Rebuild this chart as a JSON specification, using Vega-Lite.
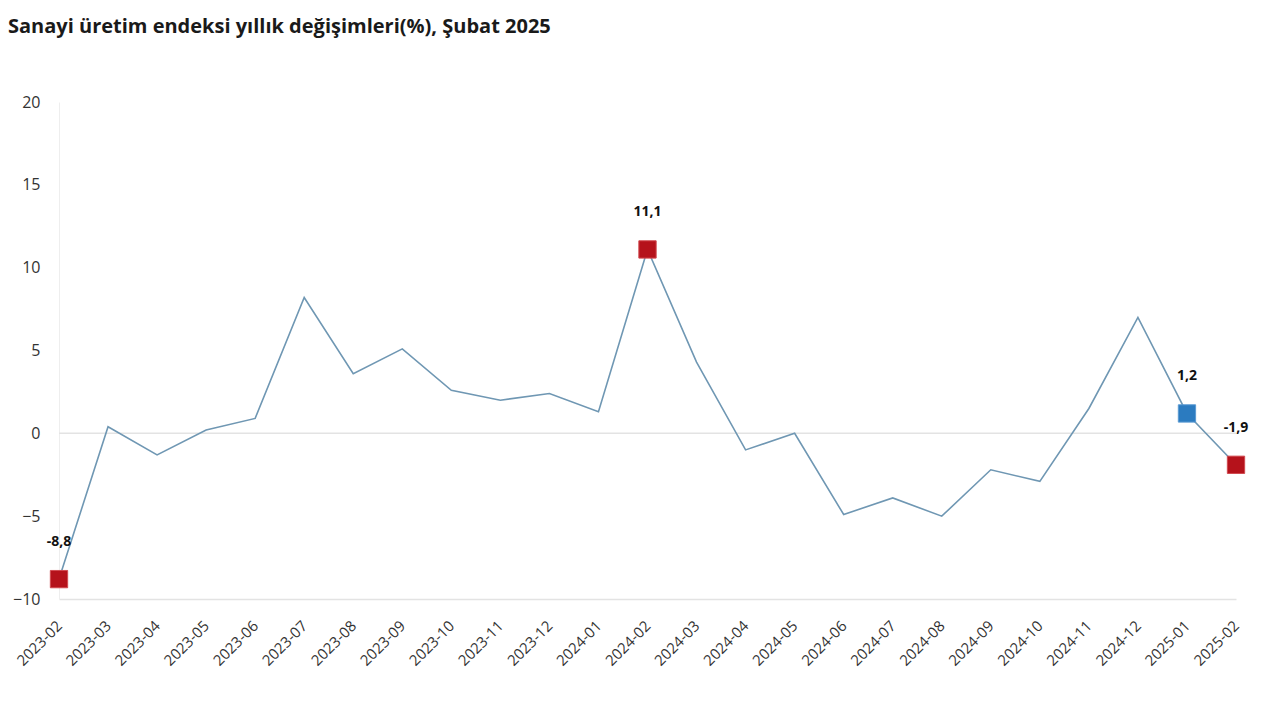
{
  "$schema": "https://vega.github.io/schema/vega-lite/v6.json",
  "autosize": {"type": "none"},
  "padding": {"left": 59, "top": 102, "right": 44, "bottom": 121},
  "width": 1177,
  "height": 497,
  "background": "white",
  "title": {
    "text": "Sanayi üretim endeksi yıllık değişimleri(%), Şubat 2025",
    "anchor": "start",
    "frame": "group",
    "font": "Open Sans",
    "fontSize": 20,
    "fontWeight": "bold",
    "color": "#1a1a1a",
    "dx": -51,
    "offset": 57
  },
  "config": {
    "view": {"stroke": null},
    "font": "Open Sans"
  },
  "data": {
    "values": [
      {"ay": "2023-02", "deger": -8.8, "vurgu": "kirmizi", "etiket": "-8,8"},
      {"ay": "2023-03", "deger": 0.4},
      {"ay": "2023-04", "deger": -1.3},
      {"ay": "2023-05", "deger": 0.2},
      {"ay": "2023-06", "deger": 0.9},
      {"ay": "2023-07", "deger": 8.2},
      {"ay": "2023-08", "deger": 3.6},
      {"ay": "2023-09", "deger": 5.1},
      {"ay": "2023-10", "deger": 2.6},
      {"ay": "2023-11", "deger": 2.0},
      {"ay": "2023-12", "deger": 2.4},
      {"ay": "2024-01", "deger": 1.3},
      {"ay": "2024-02", "deger": 11.1, "vurgu": "kirmizi", "etiket": "11,1"},
      {"ay": "2024-03", "deger": 4.3},
      {"ay": "2024-04", "deger": -1.0},
      {"ay": "2024-05", "deger": 0.0},
      {"ay": "2024-06", "deger": -4.9},
      {"ay": "2024-07", "deger": -3.9},
      {"ay": "2024-08", "deger": -5.0},
      {"ay": "2024-09", "deger": -2.2},
      {"ay": "2024-10", "deger": -2.9},
      {"ay": "2024-11", "deger": 1.5},
      {"ay": "2024-12", "deger": 7.0},
      {"ay": "2025-01", "deger": 1.2, "vurgu": "mavi", "etiket": "1,2"},
      {"ay": "2025-02", "deger": -1.9, "vurgu": "kirmizi", "etiket": "-1,9"}
    ]
  },
  "encoding": {
    "x": {
      "field": "ay",
      "type": "ordinal",
      "scale": {"type": "point", "padding": 0},
      "axis": {
        "title": null,
        "labelAngle": -45,
        "labelAlign": "right",
        "labelBaseline": "middle",
        "labelFontSize": 15,
        "labelColor": "#333333",
        "labelPadding": 24,
        "ticks": false,
        "domainColor": "#e3e3e3",
        "domainWidth": 1.5,
        "grid": false
      }
    },
    "y": {
      "field": "deger",
      "type": "quantitative",
      "scale": {"domain": [-10, 20], "nice": false, "zero": false},
      "axis": {
        "title": null,
        "values": [-10, -5, 0, 5, 10, 15, 20],
        "labelFontSize": 16,
        "labelColor": "#333333",
        "labelPadding": 19,
        "ticks": false,
        "grid": false,
        "domainColor": "#eeeeee",
        "domainWidth": 1
      }
    }
  },
  "layer": [
    {
      "mark": {"type": "rule", "color": "#e3e3e3", "strokeWidth": 1.5},
      "data": {"values": [{"sifir": 0}]},
      "encoding": {"y": {"field": "sifir", "type": "quantitative"}, "x": null}
    },
    {
      "mark": {"type": "line", "color": "#6f97b3", "strokeWidth": 1.6},
      "encoding": {}
    },
    {
      "transform": [{"filter": "datum.vurgu != null"}],
      "mark": {"type": "square", "size": 300, "opacity": 1, "strokeWidth": 1},
      "encoding": {
        "fill": {
          "field": "vurgu",
          "type": "nominal",
          "scale": {"domain": ["kirmizi", "mavi"], "range": ["#b5121b", "#2b7bc0"]},
          "legend": null
        },
        "stroke": {
          "field": "vurgu",
          "type": "nominal",
          "scale": {"domain": ["kirmizi", "mavi"], "range": ["#d14a50", "#5a9ad3"]},
          "legend": null
        }
      }
    },
    {
      "transform": [{"filter": "datum.vurgu != null"}],
      "mark": {"type": "text", "dy": -37, "fontSize": 14, "fontWeight": "bold", "color": "#111111"},
      "encoding": {"text": {"field": "etiket", "type": "nominal"}}
    }
  ]
}
